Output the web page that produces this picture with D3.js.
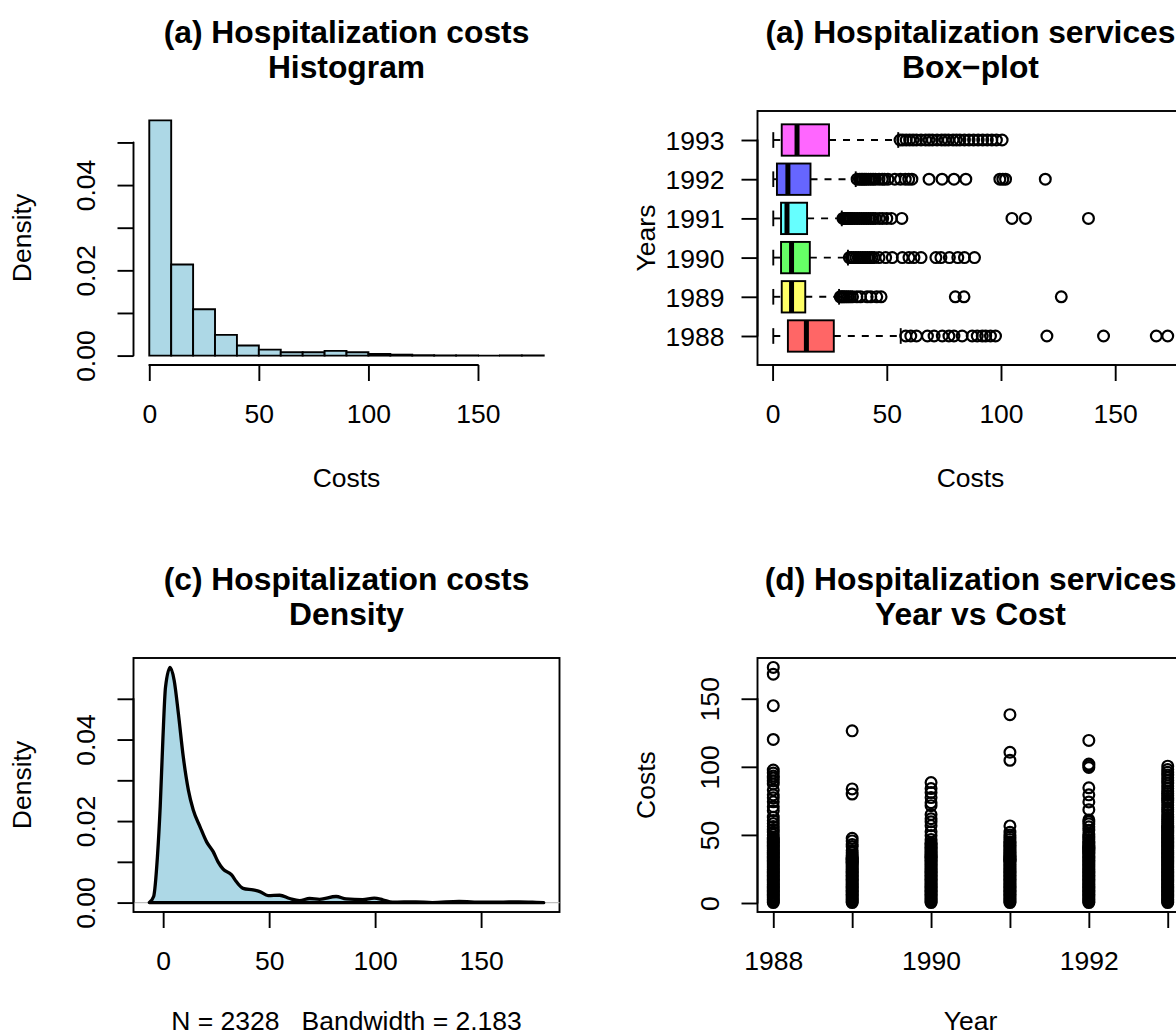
<!DOCTYPE html>
<html>
<head>
<meta charset="utf-8">
<script src="https://cdn.jsdelivr.net/npm/d3@7"></script>
<style>
body { margin: 0; background: #fff; overflow: hidden; }
svg { display: block; font-family: "Liberation Sans", Arial, Helvetica, sans-serif; }
</style>
</head>
<body>
<svg id="fig" width="1176" height="1036"></svg>
<script>
// ---- data ----
const histBreaks = [0, 10, 20, 30, 40, 50, 60, 70, 80, 90, 100, 110, 120, 130, 140, 150, 160, 170, 180];
const histDensity = [0.05517, 0.02136, 0.01088, 0.00485, 0.00235, 0.00141, 0.00078, 0.00078, 0.0011,
    0.00078, 0.00039, 0.00022, 0.00009, 0.00004, 0.00004, 0, 0.00004, 0.00004];
const costTicks = [0, 50, 100, 150];
const costLabels = ['0', '50', '100', '150'];
const densTicks = [0, 0.01, 0.02, 0.03, 0.04, 0.05];
const densLabels = ['0.00', '', '0.02', '', '0.04', ''];

const densX = [-6.55, -4.5, -2.7, -1.4, -0.15, 1.1, 3.3, 5.2, 7.2, 9.5, 11.9, 14.2, 17.4, 20.5, 23.6,
    25.9, 28.3, 32.3, 34.6, 37.7, 42.4, 45.6, 49.5, 55, 59.7, 64.4, 69.1, 73.8, 81.6, 86.3, 94.1,
    99.6, 103.6, 108.2, 119.2, 127, 139.6, 150.6, 158.5, 167.9, 174.2, 179.55];
const densY = [0, 0.0015, 0.0113, 0.0235, 0.0398, 0.0528, 0.0577, 0.0545, 0.0463, 0.0357, 0.0276,
    0.0227, 0.0186, 0.0149, 0.0125, 0.0100, 0.0082, 0.0068, 0.0051, 0.0035, 0.0031, 0.0027, 0.0017,
    0.0018, 0.0010, 0.0005, 0.0010, 0.0008, 0.0015, 0.0009, 0.0007, 0.0011, 0.0007, 0.0001, 0.0002,
    0, 0.0003, 0.0001, 0.0001, 0.0002, 0.0001, 0];
const densSub = 'N = 2328   Bandwidth = 2.183';

const years = [1988, 1989, 1990, 1991, 1992, 1993];
const yearLabels = ['1988', '', '1990', '', '1992', ''];
const boxLo = [0.3, 0.3, 0.3, 0.3, 0.3, 0.3];
const boxQ1 = [6.7, 4.0, 3.7, 3.7, 1.9, 4.0];
const boxMed = [14.8, 8.3, 8.3, 6.3, 6.7, 10.7];
const boxQ3 = [26.8, 14.3, 16.3, 15.1, 16.6, 24.7];
const boxHi = [56.1, 29.1, 33.0, 30.3, 36.4, 55.0];
const boxColors = ['#FF6666', '#FFFF66', '#66FF66', '#66FFFF', '#6666FF', '#FF66FF'];

// costs inside the whiskers, per year
const costs1988 = [0.3, 1, 2, 3, 4, 5, 6, 7, 8, 9, 10, 11, 12, 13, 14, 15, 16, 17, 18, 19, 20, 21, 22, 23,
    24, 25, 26, 27, 28, 29, 30, 31, 32, 33, 34, 35, 36, 37, 38, 39, 40, 41, 42, 43, 44, 45, 46, 47, 48,
    50, 52, 54, 56.1];
const costs1989 = [0.3, 1, 2, 3, 4, 5, 6, 7, 8, 9, 10, 11, 12, 13, 14, 15, 16, 17, 18, 19, 20, 21, 22, 23,
    24, 25, 26, 27, 28, 29.1];
const costs1990 = [0.3, 1, 2, 3, 4, 5, 6, 7, 8, 9, 10, 11, 12, 13, 14, 15, 16, 17, 18, 19, 20, 21, 22, 23,
    24, 25, 26, 27, 28, 29, 30, 31, 32, 33];
const costs1991 = [0.3, 1, 2, 3, 4, 5, 6, 7, 8, 9, 10, 11, 12, 13, 14, 15, 16, 17, 18, 19, 20, 21, 22, 23,
    24, 25, 26, 27, 28, 29, 30.3];
const costs1992 = [0.3, 1, 2, 3, 4, 5, 6, 7, 8, 9, 10, 11, 12, 13, 14, 15, 16, 17, 18, 19, 20, 21, 22, 23,
    24, 25, 26, 27, 28, 29, 30, 31, 32, 33, 34, 35, 36.4];
const costs1993 = [0.3, 1, 2, 3, 4, 5, 6, 7, 8, 9, 10, 11, 12, 13, 14, 15, 16, 17, 18, 19, 20, 21, 22, 23,
    24, 25, 26, 27, 28, 29, 30, 31, 32, 33, 34, 35, 36, 37, 38, 39, 40, 41, 42, 43, 44, 45, 46, 47, 48,
    49, 50, 51, 52, 53, 54, 55];

// outliers, per year
const out1988 = [58.3, 60.5, 63, 67.8, 70.7, 74.3, 77.2, 79.4, 83, 87.4, 89.6, 91.8, 93.3, 95.4, 97.6,
    120.1, 144.9, 168, 173];
const out1989 = [29.6, 30.2, 30.8, 31.5, 32.3, 33.1, 34, 35, 36.9, 38.5, 41.4, 43, 45.6, 47.5, 80, 83.8, 126.4];
const out1990 = [33.6, 34.5, 35.5, 36.5, 37.5, 38.5, 39.5, 40.5, 41.5, 42.5, 43.5, 44.5, 46.6, 49.5, 52.4,
    56.8, 59.7, 61.9, 65, 71.5, 73.7, 77.4, 81.1, 84, 88.4];
const out1991 = [30.8, 31.3, 31.8, 32.4, 33, 33.6, 34.3, 35, 36, 37, 38, 39, 40, 41, 42, 43, 44, 45, 46.7,
    48.2, 50, 52, 56.6, 104.8, 110.7, 138.3];
const out1992 = [37, 38, 38.8, 39.5, 40.3, 41, 42, 43, 44, 45, 46.6, 48, 49, 50.5, 53.5, 56, 58.1, 59.6, 61,
    68.5, 74.2, 79.4, 84.6, 99.5, 100.8, 102, 119.4];
const out1993 = [55.8, 57, 58.5, 60, 61.5, 63, 65, 67, 68.5, 70, 72, 74, 75.5, 77, 79, 80.5, 82, 84, 86,
    88, 90, 92, 94, 96, 98, 100.5];

const innerCosts = [costs1988, costs1989, costs1990, costs1991, costs1992, costs1993];
const outCosts = [out1988, out1989, out1990, out1991, out1992, out1993];

// ---- layout ----
const FONT = 26.5, TITLE_FONT = 31.8, LWD = 1.9, PT_LWD = 2.2, PT_R = 5.4, LINE = 32;
const colL = { left: 133.5, right: 559.5 }, colR = { left: 757.5, right: 1183.5 };
const row1 = { top: 111, bottom: 365 }, row2 = { top: 658, bottom: 912 };

const svg = d3.select('#fig');

function rExt(lo, hi) {
    const d = (hi - lo) * 0.04;
    return [lo - d, hi + d];
}

function addAxis(side, scale, ticks, labels, at, horizontal) {
    const axis = (side === 'bottom' ? d3.axisBottom(scale) : d3.axisLeft(scale))
        .tickValues(ticks)
        .tickFormat((d, i) => labels[i])
        .tickSize(16)
        .tickSizeOuter(0);
    const g = svg.append('g')
        .attr('transform', side === 'bottom' ? 'translate(0,' + at + ')' : 'translate(' + at + ',0)')
        .call(axis)
        .attr('font-size', null)
        .attr('font-family', null);
    g.select('.domain').remove();
    const a = scale(ticks[0]), b = scale(ticks[ticks.length - 1]);
    g.append('line')
        .attr('x1', side === 'bottom' ? a : 0).attr('x2', side === 'bottom' ? b : 0)
        .attr('y1', side === 'bottom' ? 0 : a).attr('y2', side === 'bottom' ? 0 : b)
        .attr('stroke', '#000').attr('stroke-width', LWD).attr('stroke-linecap', 'round');
    g.selectAll('.tick line').attr('stroke', '#000').attr('stroke-width', LWD);
    const txt = g.selectAll('.tick text').attr('fill', '#000').attr('font-size', FONT);
    if (side === 'bottom') {
        txt.attr('y', 57.6).attr('dy', null);
    } else if (horizontal) {
        txt.attr('x', -33).attr('dy', '0.36em').attr('text-anchor', 'end');
    } else {
        txt.attr('x', null).attr('dy', null).attr('text-anchor', 'middle')
            .attr('transform', 'translate(-38.4,0) rotate(-90)');
    }
}

function addTitle(col, row, lines) {
    const cx = (col.left + col.right) / 2;
    lines.forEach(function(t, i) {
        svg.append('text')
            .attr('x', cx).attr('y', row.top - 68 + i * 35)
            .attr('text-anchor', 'middle')
            .attr('font-weight', 'bold')
            .attr('font-size', TITLE_FONT)
            .text(t);
    });
}

function addLabels(col, row, xlab, ylab) {
    svg.append('text')
        .attr('x', (col.left + col.right) / 2).attr('y', Math.min(row.bottom + 121.7, 1030))
        .attr('text-anchor', 'middle').attr('font-size', FONT)
        .style('white-space', 'pre')
        .text(xlab);
    svg.append('text')
        .attr('transform', 'translate(' + (col.left - 3.2 * LINE) + ',' + ((row.top + row.bottom) / 2) + ') rotate(-90)')
        .attr('text-anchor', 'middle').attr('font-size', FONT)
        .text(ylab);
}

function addFrame(col, row) {
    svg.append('rect')
        .attr('x', col.left).attr('y', row.top)
        .attr('width', col.right - col.left).attr('height', row.bottom - row.top)
        .attr('fill', 'none').attr('stroke', '#000').attr('stroke-width', LWD);
}

// ---- (a) histogram ----
function drawHistogram() {
    const x = d3.scaleLinear().domain(rExt(histBreaks[0], histBreaks[histBreaks.length - 1]))
        .range([colL.left, colL.right]);
    const y = d3.scaleLinear().domain(rExt(0, d3.max(histDensity)))
        .range([row1.bottom, row1.top]);
    // paths, so that empty bins still show as a line on the baseline
    svg.append('g').selectAll('path')
        .data(histDensity)
        .join('path')
        .attr('d', (d, i) => 'M' + x(histBreaks[i]) + ',' + y(0) + 'V' + y(d)
            + 'H' + x(histBreaks[i + 1]) + 'V' + y(0) + 'Z')
        .attr('fill', '#ADD8E6')
        .attr('stroke', '#000')
        .attr('stroke-width', LWD);
    addAxis('bottom', x, costTicks, costLabels, row1.bottom);
    addAxis('left', y, densTicks, densLabels, colL.left);
    addTitle(colL, row1, ['(a) Hospitalization costs', 'Histogram']);
    addLabels(colL, row1, 'Costs', 'Density');
}

// ---- (b) box-plot ----
function drawBoxplot() {
    const all = d3.merge([boxLo, boxHi, d3.merge(outCosts)]);
    const x = d3.scaleLinear().domain(rExt(d3.min(all), d3.max(all)))
        .range([colR.left, colR.right]);
    const y = d3.scaleLinear().domain(rExt(0.5, years.length + 0.5))
        .range([row1.bottom, row1.top]);
    const half = y(0) - y(0.4), staple = y(0) - y(0.2);
    const g = svg.append('g');
    years.forEach(function(yr, i) {
        const yc = y(i + 1);
        [[boxLo[i], boxQ1[i]], [boxQ3[i], boxHi[i]]].forEach(function(w) {
            g.append('line')
                .attr('x1', x(w[0])).attr('x2', x(w[1]))
                .attr('y1', yc).attr('y2', yc)
                .attr('stroke', '#000').attr('stroke-width', LWD)
                .attr('stroke-dasharray', '7,7');
        });
        [boxLo[i], boxHi[i]].forEach(function(v) {
            g.append('line')
                .attr('x1', x(v)).attr('x2', x(v))
                .attr('y1', yc - staple).attr('y2', yc + staple)
                .attr('stroke', '#000').attr('stroke-width', LWD);
        });
        g.append('rect')
            .attr('x', x(boxQ1[i])).attr('width', x(boxQ3[i]) - x(boxQ1[i]))
            .attr('y', yc - half).attr('height', 2 * half)
            .attr('fill', boxColors[i]).attr('stroke', '#000').attr('stroke-width', LWD);
        g.append('line')
            .attr('x1', x(boxMed[i])).attr('x2', x(boxMed[i]))
            .attr('y1', yc - half).attr('y2', yc + half)
            .attr('stroke', '#000').attr('stroke-width', 5);
        g.selectAll(null)
            .data(outCosts[i])
            .join('circle')
            .attr('cx', d => x(d)).attr('cy', yc).attr('r', PT_R)
            .attr('fill', 'none').attr('stroke', '#000').attr('stroke-width', PT_LWD);
    });
    addFrame(colR, row1);
    addAxis('bottom', x, costTicks, costLabels, row1.bottom);
    addAxis('left', y, d3.range(1, years.length + 1), years.map(String), colR.left, true);
    addTitle(colR, row1, ['(a) Hospitalization services', 'Box\u2212plot']);
    addLabels(colR, row1, 'Costs', 'Years');
}

// ---- (c) density ----
function drawDensity() {
    const pts = densX.map((v, i) => [v, densY[i]]);
    const x = d3.scaleLinear().domain(rExt(d3.min(densX), d3.max(densX)))
        .range([colL.left, colL.right]);
    const y = d3.scaleLinear().domain(rExt(0, d3.max(densY)))
        .range([row2.bottom, row2.top]);
    addFrame(colL, row2);
    svg.append('line')
        .attr('x1', colL.left).attr('x2', colL.right)
        .attr('y1', y(0)).attr('y2', y(0))
        .attr('stroke', '#BEBEBE').attr('stroke-width', 1.2);
    const line = d3.line().x(d => x(d[0])).y(d => y(d[1])).curve(d3.curveMonotoneX);
    svg.append('path')
        .attr('d', line(pts) + 'Z')
        .attr('fill', '#ADD8E6')
        .attr('stroke', '#000')
        .attr('stroke-width', 3.3)
        .attr('stroke-linejoin', 'round');
    addAxis('bottom', x, costTicks, costLabels, row2.bottom);
    addAxis('left', y, densTicks, densLabels, colL.left);
    addTitle(colL, row2, ['(c) Hospitalization costs', 'Density']);
    addLabels(colL, row2, densSub, 'Density');
}

// ---- (d) scatter ----
function drawScatter() {
    const pts = [];
    years.forEach(function(yr, i) {
        innerCosts[i].forEach(c => pts.push([yr, c]));
        outCosts[i].forEach(c => pts.push([yr, c]));
    });
    const x = d3.scaleLinear().domain(rExt(d3.min(years), d3.max(years)))
        .range([colR.left, colR.right]);
    const y = d3.scaleLinear().domain(rExt(d3.min(pts, d => d[1]), d3.max(pts, d => d[1])))
        .range([row2.bottom, row2.top]);
    svg.append('g').selectAll('circle')
        .data(pts)
        .join('circle')
        .attr('cx', d => x(d[0])).attr('cy', d => y(d[1])).attr('r', PT_R)
        .attr('fill', 'none').attr('stroke', '#000').attr('stroke-width', PT_LWD);
    addFrame(colR, row2);
    addAxis('bottom', x, years, yearLabels, row2.bottom);
    addAxis('left', y, costTicks, costLabels, colR.left);
    addTitle(colR, row2, ['(d) Hospitalization services', 'Year vs Cost']);
    addLabels(colR, row2, 'Year', 'Costs');
}

drawHistogram();
drawBoxplot();
drawDensity();
drawScatter();
</script>
</body>
</html>
